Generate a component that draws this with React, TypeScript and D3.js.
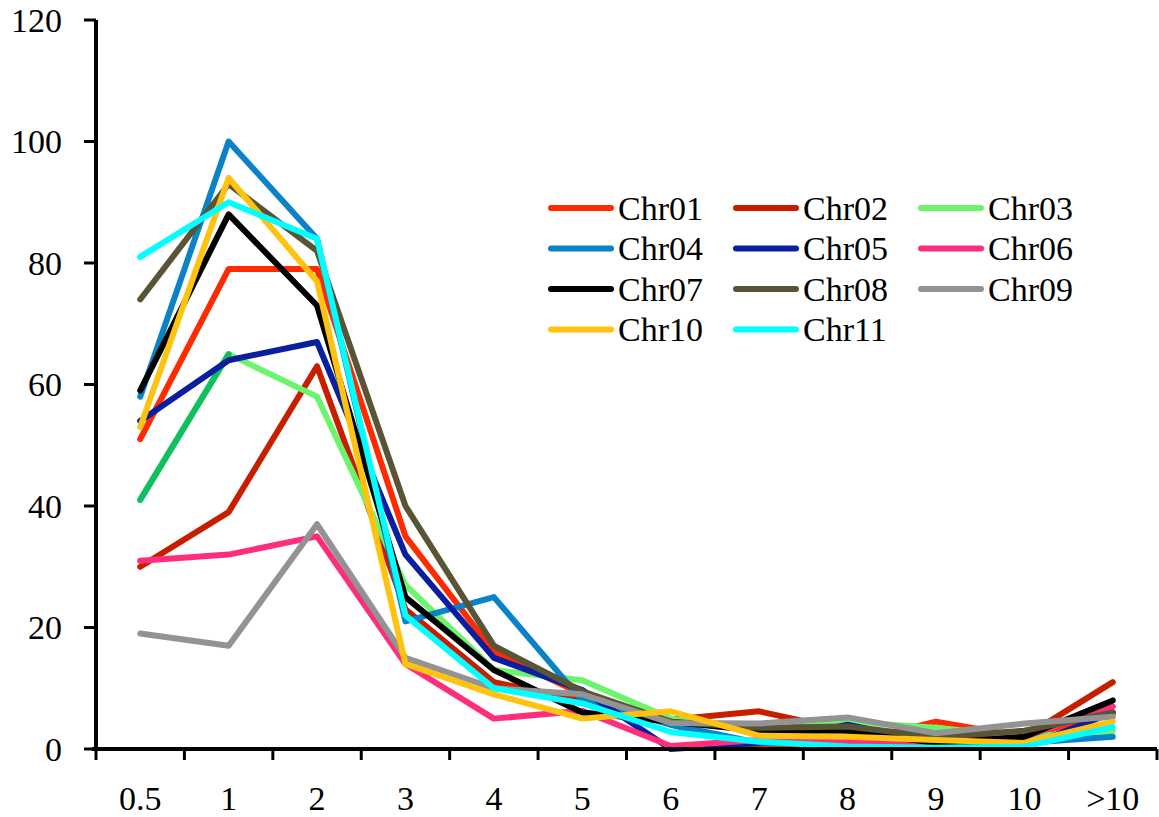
import * as d3 from "d3";

// x categories (size classes) and y ticks
const categories = ["0.5", "1", "2", "3", "4", "5", "6", "7", "8", "9", "10", ">10"];
const yTicks = [0, 20, 40, 60, 80, 100, 120];

const seriesNames = ["Chr01", "Chr02", "Chr03", "Chr04", "Chr05", "Chr06", "Chr07", "Chr08", "Chr09", "Chr10", "Chr11"];

const chr01 = [51, 79, 79, 35, 16, 9, 4, 0.3, 1, 4.5, 2, 6];
const chr02 = [30, 39, 63, 23, 11, 8, 4.8, 6.2, 3, 2, 2, 11];
const chr03 = [41, 65, 58, 27, 13, 11.3, 5, 3, 4.5, 3.5, 2, 3];
const chr04 = [58, 100, 84, 21, 25, 8, 4, 1, 1, 1, 1, 2];
const chr05 = [54, 64, 67, 32, 15, 9.7, 0, 1, 4, 1, 0.3, 6];
const chr06 = [31, 32, 35, 14, 5, 6.3, 0.5, 1.5, 1.2, 1, 2, 7];
const chr07 = [59, 88, 73, 25, 13, 6, 4.5, 3, 3, 1, 2, 8];
const chr08 = [74, 93, 82, 40, 17, 9.5, 4.5, 3.5, 3.7, 2, 3, 6];
const chr09 = [19, 17, 37, 15, 10, 9, 4.3, 4.2, 5.2, 2.6, 4.2, 5.3];
const chr10 = [53, 94, 77, 14, 9, 5, 6.2, 2.2, 2, 1.5, 1, 4.5];
const chr11 = [81, 90, 84, 22, 10, 7.5, 2.8, 1.2, 0.4, 0.2, 0.4, 3.6];

const seriesValues = [chr01, chr02, chr03, chr04, chr05, chr06, chr07, chr08, chr09, chr10, chr11];

const colors = ["#FF2A00", "#C81E00", "#6CF56C", "#0A82C8", "#0A1EA0", "#FF2E7C", "#000000", "#5A5436", "#939393", "#FFC20E", "#00FFFF"];
// Chr03's first segment is formatted in a darker green in the original
const chr03FirstSegment = "#10C060";

const W = 1159;
const H = 817;
const margin = { top: 20, right: 2, bottom: 68, left: 96 };
const font = "'Liberation Serif', 'Times New Roman', serif";

export default function App() {
  const x = d3
    .scaleBand<string>()
    .domain(categories)
    .range([margin.left, W - margin.right]);
  const y = d3
    .scaleLinear()
    .domain([0, 120])
    .range([H - margin.bottom, margin.top]);

  const cx = (i: number) => x(categories[i])! + x.bandwidth() / 2;
  const line = d3
    .line<number>()
    .x((_, i) => cx(i))
    .y((d) => y(d));

  const y0 = y(0);

  return (
    <svg width={W} height={H} style={{ position: "absolute", left: 0, top: 0, background: "#fff" }} fontFamily={font}>
      {/* series */}
      {seriesValues.map((vals, s) => (
        <g key={seriesNames[s]}>
          <path d={line(vals)!} fill="none" stroke={colors[s]} strokeWidth={6} strokeLinejoin="round" strokeLinecap="round" />
          {s === 2 && (
            <path
              d={line.x((_, i) => cx(i))(vals.slice(0, 2))!}
              fill="none"
              stroke={chr03FirstSegment}
              strokeWidth={6}
              strokeLinecap="round"
            />
          )}
        </g>
      ))}

      {/* y axis */}
      <line x1={margin.left} x2={margin.left} y1={y(120)} y2={y0 + 2} stroke="#000" strokeWidth={4} />
      {yTicks.map((t) => (
        <g key={t}>
          <line x1={margin.left - 12} x2={margin.left} y1={y(t)} y2={y(t)} stroke="#000" strokeWidth={3} />
          <text x={62} y={y(t)} dy="0.35em" textAnchor="end" fontSize={34}>
            {t}
          </text>
        </g>
      ))}

      {/* x axis */}
      <line x1={margin.left - 4} x2={W - margin.right} y1={y0} y2={y0} stroke="#000" strokeWidth={4} />
      {categories.map((c, i) => (
        <g key={c}>
          <line x1={x(c)!} x2={x(c)!} y1={y0} y2={y0 + 11} stroke="#000" strokeWidth={3} />
          <text x={cx(i)} y={810} textAnchor="middle" fontSize={34}>
            {c}
          </text>
        </g>
      ))}
      <line x1={W - margin.right} x2={W - margin.right} y1={y0} y2={y0 + 11} stroke="#000" strokeWidth={3} />

      {/* legend */}
      {seriesNames.map((name, s) => {
        const col = s % 3;
        const row = Math.floor(s / 3);
        const lx = [551, 736, 921][col];
        const ly = 208 + row * 40.5;
        return (
          <g key={name}>
            <line x1={lx} x2={lx + 60} y1={ly} y2={ly} stroke={colors[s]} strokeWidth={6} strokeLinecap="round" />
            <text x={lx + 67} y={ly} dy="0.35em" fontSize={34}>
              {name}
            </text>
          </g>
        );
      })}
    </svg>
  );
}
